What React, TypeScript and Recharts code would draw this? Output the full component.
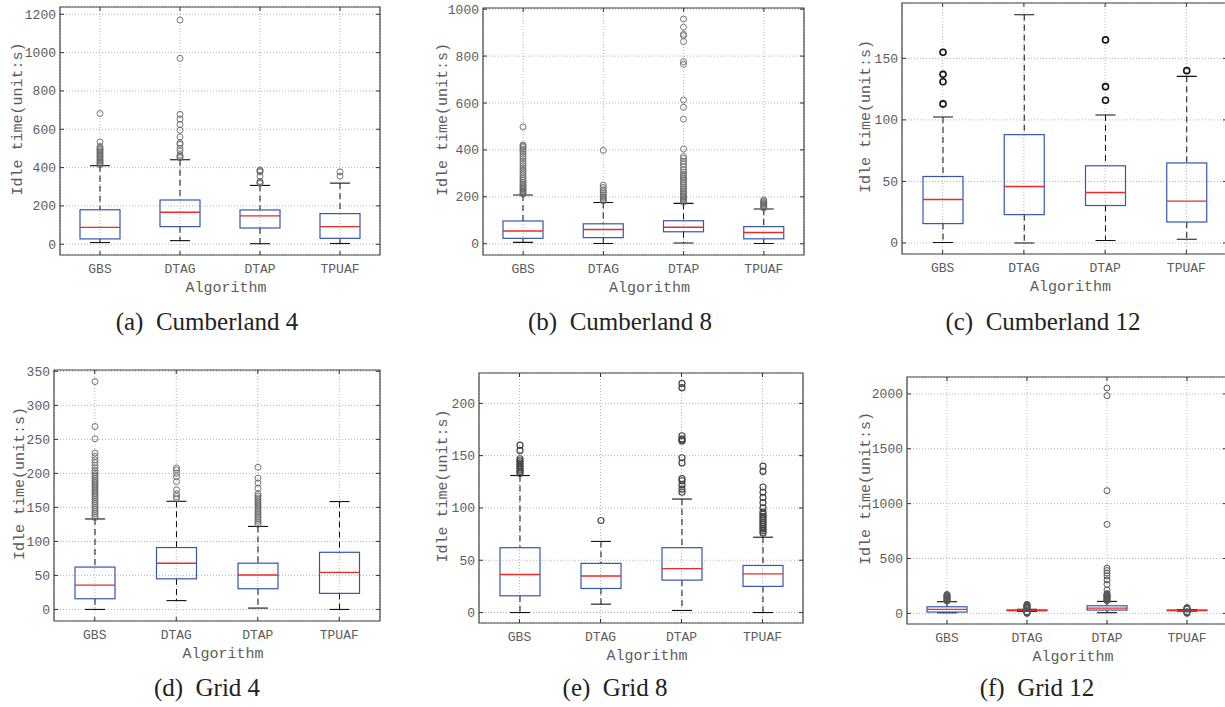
import React from 'react';
import { ComposedChart, Bar, XAxis, YAxis, CartesianGrid, ReferenceArea } from 'recharts';

const CATS = ['GBS', 'DTAG', 'DTAP', 'TPUAF'];

// (a) Cumberland 4
const A_LO = [9, 19, 3, 4];
const A_Q1 = [28, 92, 85, 31];
const A_MED = [88, 167, 148, 92];
const A_Q3 = [180, 231, 179, 160];
const A_HI = [410, 441, 307, 319];
const A_OUT = [
  [415, 422, 428, 435, 442, 450, 458, 465, 472, 480, 488, 495, 502, 510, 534, 682],
  [451, 458, 465, 486, 500, 521, 529, 560, 595, 625, 653, 678, 970, 1170],
  [318, 322, 328, 355, 378, 383, 388],
  [355, 378],
];
const A_TICKS = [0, 200, 400, 600, 800, 1000, 1200];

// (b) Cumberland 8
const B_LO = [6, 1, 3, 1];
const B_Q1 = [23, 26, 51, 21];
const B_MED = [54, 61, 70, 48];
const B_Q3 = [97, 85, 98, 73];
const B_HI = [208, 176, 172, 148];
const B_OUT = [
  [212, 216, 220, 225, 230, 236, 242, 248, 255, 262, 270, 278, 286, 295, 304, 313, 322, 332, 342, 352, 362, 372, 382, 392, 402, 410, 416, 421, 498],
  [182, 188, 194, 200, 207, 214, 222, 230, 240, 250, 398],
  [176, 181, 186, 192, 198, 205, 212, 219, 226, 233, 240, 248, 256, 264, 272, 280, 288, 296, 305, 315, 328, 340, 352, 364, 372, 404, 531, 582, 613, 765, 776, 862, 887, 893, 923, 958],
  [152, 156, 160, 164, 168, 172, 176, 181, 187],
];
const B_TICKS = [0, 200, 400, 600, 800, 1000];

// (c) Cumberland 12
const C_LO = [0.3, 0, 2, 3];
const C_Q1 = [15.7, 23, 30.4, 17];
const C_MED = [35.3, 45.8, 41, 34];
const C_Q3 = [54, 88, 62.7, 65];
const C_HI = [102.3, 185.5, 104, 135.4];
const C_OUT = [
  [113, 131, 137, 155],
  [],
  [116, 127, 165],
  [140],
];
const C_TICKS = [0, 50, 100, 150];

// (d) Grid 4
const D_LO = [0, 13, 2, 0];
const D_Q1 = [15.7, 45, 30.4, 23.6];
const D_MED = [35.8, 68, 50.6, 54.5];
const D_Q3 = [62.3, 91, 68, 84];
const D_HI = [133, 159, 122, 158.6];
const D_OUT = [
  [135, 138, 141, 144, 147, 150, 153, 156, 159, 162, 165, 168, 171, 174, 177, 180, 183, 186, 189, 192, 195, 198, 201, 204, 208, 212, 216, 220, 225, 230, 251, 269, 335],
  [163, 166, 170, 176, 188, 195, 200, 205, 208],
  [125, 128, 131, 134, 137, 140, 143, 146, 149, 152, 155, 158, 161, 164, 167, 170, 178, 186, 193, 209],
  [],
];
const D_TICKS = [0, 50, 100, 150, 200, 250, 300, 350];

// (e) Grid 8
const E_LO = [0, 8, 2, 0];
const E_Q1 = [16, 23, 31, 25];
const E_MED = [36.4, 35, 42, 37];
const E_Q3 = [62, 47, 62, 45];
const E_HI = [131, 68, 108.5, 72];
const E_OUT = [
  [133, 135, 137, 139, 141, 143, 145, 147, 155, 160],
  [88],
  [115, 118, 122, 126, 128, 143, 148, 164, 165, 166, 169, 215, 219],
  [76, 78, 80, 82, 84, 86, 88, 90, 92, 94, 96, 100, 105, 110, 115, 120, 135, 140],
];
const E_TICKS = [0, 50, 100, 150, 200];

// (f) Grid 12
const F_LO = [5, 18, 6, 20];
const F_Q1 = [12, 24, 30, 25];
const F_MED = [36, 27, 48, 27];
const F_Q3 = [60, 31, 69, 30];
const F_HI = [106, 37, 109, 35];
const F_OUT = [
  [112, 118, 124, 130, 136, 142, 148, 154, 160, 166, 172],
  [0, 2, 4, 6, 8, 10, 12, 14, 42, 46, 50, 54, 58, 62, 66, 70, 74, 78, 82],
  [115, 120, 126, 132, 138, 144, 150, 156, 162, 168, 175, 180, 212, 264, 304, 340, 367, 390, 413, 811, 1118, 1984, 2054],
  [0, 3, 6, 9, 12, 15, 38, 41, 44, 47, 50, 53],
];
const F_TICKS = [0, 500, 1000, 1500, 2000];

const buildRows = (lo, q1, med, q3, hi, out) =>
  CATS.map((name, i) => ({ name, box: [q1[i], q3[i]], lo: lo[i], q1: q1[i], med: med[i], q3: q3[i], hi: hi[i], out: out[i] }));

const MONO = '"Liberation Mono", "DejaVu Sans Mono", monospace';
const SERIF = '"Liberation Serif", "Times New Roman", serif';
const TXT = '#5c5c5c';

const PANELS = [
  { id: 'a', rows: buildRows(A_LO, A_Q1, A_MED, A_Q3, A_HI, A_OUT), ticks: A_TICKS, domain: [-56, 1238], plotLeft: 60, plotTop: 7, plotW: 320, plotH: 248, ylGap: 43, caption: '(a)  Cumberland 4', capX: 207, capY: 331, outStroke: '#666', outW: 0.9 },
  { id: 'b', rows: buildRows(B_LO, B_Q1, B_MED, B_Q3, B_HI, B_OUT), ticks: B_TICKS, domain: [-48, 1005], plotLeft: 483, plotTop: 8, plotW: 321, plotH: 247, ylGap: 41, caption: '(b)  Cumberland 8', capX: 620, capY: 331, outStroke: '#666', outW: 0.9 },
  { id: 'c', rows: buildRows(C_LO, C_Q1, C_MED, C_Q3, C_HI, C_OUT), ticks: C_TICKS, domain: [-9, 195], plotLeft: 902, plotTop: 3, plotW: 325, plotH: 251, ylGap: 37, caption: '(c)  Cumberland 12', capX: 1043, capY: 331, outStroke: '#111', outW: 1.6 },
  { id: 'd', rows: buildRows(D_LO, D_Q1, D_MED, D_Q3, D_HI, D_OUT), ticks: D_TICKS, domain: [-17, 352], plotLeft: 54, plotTop: 370, plotW: 326, plotH: 251, ylGap: 35, caption: '(d)  Grid 4', capX: 207, capY: 697, outStroke: '#666', outW: 0.9 },
  { id: 'e', rows: buildRows(E_LO, E_Q1, E_MED, E_Q3, E_HI, E_OUT), ticks: E_TICKS, domain: [-10, 229], plotLeft: 479, plotTop: 373, plotW: 324, plotH: 250, ylGap: 37, caption: '(e)  Grid 8', capX: 615, capY: 697, outStroke: '#444', outW: 1.2 },
  { id: 'f', rows: buildRows(F_LO, F_Q1, F_MED, F_Q3, F_HI, F_OUT), ticks: F_TICKS, domain: [-97, 2154], plotLeft: 907, plotTop: 377, plotW: 320, plotH: 247, ylGap: 42, caption: '(f)  Grid 12', capX: 1037, capY: 697, outStroke: '#555', outW: 1.0 },
];

const YW = 70;
const XH = 50;
const MT = 4;
const MR = 4;

const makeBoxShape = (outStroke, outW) => (props) => {
  const { x, y, width, height, payload } = props;
  const { q1, q3, med, lo, hi, out } = payload;
  const span = q3 - q1 || 1;
  const k = height / span;
  const py = (v) => y + (q3 - v) * k;
  const cx = x + width / 2;
  const capHalf = width / 4;
  return (
    <g>
      <line x1={cx} x2={cx} y1={py(hi)} y2={y} stroke="#111" strokeWidth={1} strokeDasharray="6 4" />
      <line x1={cx} x2={cx} y1={y + height} y2={py(lo)} stroke="#111" strokeWidth={1} strokeDasharray="6 4" />
      <line x1={cx - capHalf} x2={cx + capHalf} y1={py(hi)} y2={py(hi)} stroke="#111" strokeWidth={1.1} />
      <line x1={cx - capHalf} x2={cx + capHalf} y1={py(lo)} y2={py(lo)} stroke="#111" strokeWidth={1.1} />
      <rect x={x} y={y} width={width} height={Math.max(height, 0.5)} fill="none" stroke="#3556b0" strokeWidth={1.2} />
      <line x1={x} x2={x + width} y1={py(med)} y2={py(med)} stroke="#f02828" strokeWidth={1.4} />
      {out.map((v, i) => (
        <circle key={i} cx={cx} cy={py(v)} r={3} fill="none" stroke={outStroke} strokeWidth={outW} />
      ))}
    </g>
  );
};

function Panel({ p }) {
  const width = YW + p.plotW + MR;
  const height = MT + p.plotH + XH;
  const BoxShape = makeBoxShape(p.outStroke, p.outW);
  const yTick = (t) => {
    const { x, y, payload } = t;
    return (
      <g>
        <text x={x - 4} y={y} dy="0.35em" textAnchor="end" fill={TXT} fontFamily={MONO} fontSize={13}>{payload.value}</text>
        <line x1={x} x2={x + 4} y1={y} y2={y} stroke="#333" />
        <line x1={x + p.plotW - 4} x2={x + p.plotW} y1={y} y2={y} stroke="#333" />
      </g>
    );
  };
  const xTick = (t) => {
    const { x, y, payload } = t;
    return (
      <g>
        <text x={x} y={y + 13} dy="0.35em" textAnchor="middle" fill={TXT} fontFamily={MONO} fontSize={13}>{payload.value}</text>
        <line x1={x} x2={x} y1={y} y2={y - 4} stroke="#333" />
        <line x1={x} x2={x} y1={y - p.plotH} y2={y - p.plotH + 4} stroke="#333" />
      </g>
    );
  };
  const xLabel = () => (
    <text x={YW + p.plotW / 2 + 6} y={MT + p.plotH + 32} dy="0.35em" textAnchor="middle" fill={TXT} fontFamily={MONO} fontSize={15}>Algorithm</text>
  );
  const yLabel = () => {
    const cx = YW - p.ylGap + 5;
    const cy = MT + p.plotH / 2 - 12;
    return (
      <text x={cx} y={cy} transform={`rotate(-90 ${cx} ${cy})`} textAnchor="middle" fill={TXT} fontFamily={MONO} fontSize={15}>Idle time(unit:s)</text>
    );
  };
  return (
    <div style={{ position: 'absolute', left: p.plotLeft - YW, top: p.plotTop - MT }}>
      <ComposedChart width={width} height={height} data={p.rows} margin={{ top: MT, right: MR, bottom: 0, left: 0 }}>
        <CartesianGrid stroke="#b5b5b5" strokeDasharray="1 2" />
        <XAxis dataKey="name" type="category" height={XH} axisLine={false} tickLine={false} tickSize={0} tickMargin={0} interval={0} tick={xTick} label={xLabel} />
        <YAxis type="number" domain={p.domain} ticks={p.ticks} allowDataOverflow width={YW} axisLine={false} tickLine={false} tickSize={0} tickMargin={0} interval={0} tick={yTick} label={yLabel} />
        <ReferenceArea y1={p.domain[0]} y2={p.domain[1]} fill="none" stroke="#444" strokeWidth={1.2} />
        <Bar dataKey="box" barSize={40} shape={BoxShape} isAnimationActive={false} />
      </ComposedChart>
    </div>
  );
}

export default function App() {
  return (
    <div style={{ position: 'absolute', left: 0, top: 0, width: 1225, height: 707, overflow: 'hidden', background: '#fff' }}>
      {PANELS.map((p) => (
        <Panel key={p.id} p={p} />
      ))}
      {PANELS.map((p) => (
        <div key={'c' + p.id} style={{ position: 'absolute', left: p.capX - 150, top: p.capY - 22, width: 300, textAlign: 'center', fontFamily: SERIF, fontSize: 25, lineHeight: '25px', color: '#222', whiteSpace: 'pre' }}>
          {p.caption}
        </div>
      ))}
    </div>
  );
}
